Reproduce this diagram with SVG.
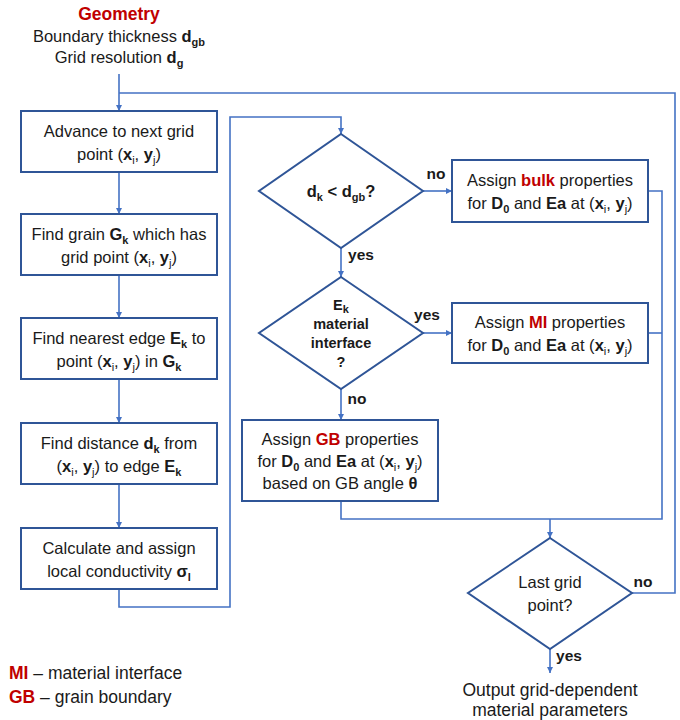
<svg xmlns="http://www.w3.org/2000/svg" width="680" height="720" viewBox="0 0 680 720">
<style>
text{font-family:"Liberation Sans",Arial,sans-serif;fill:#1a1a1a;}
.t{font-size:16.5px;text-anchor:middle;}
.o{font-size:17.5px;}
.b{font-weight:bold;}
.r{fill:#C00000;font-weight:bold;}
.lbl{font-size:15.5px;font-weight:bold;text-anchor:middle;}
.dt{font-size:14.5px;font-weight:bold;text-anchor:middle;}
.box{fill:#fff;stroke:#2F5597;stroke-width:2;}
.con{fill:none;stroke:#4472C4;stroke-width:1.6;}
.s{font-size:11px;}
</style>
<defs>
<marker id="ah" viewBox="0 0 10 10" refX="10" refY="5" markerWidth="6" markerHeight="6" orient="auto" markerUnits="userSpaceOnUse">
<path d="M0,0 L10,5 L0,10 z" fill="#4472C4"/>
</marker>
</defs>

<g id="connectors">
<path class="con" d="M119,74 V111" marker-end="url(#ah)"/>
<path class="con" d="M119,93 H675 V593 H632"/>
<path class="con" d="M119,172 V214" marker-end="url(#ah)"/>
<path class="con" d="M119,275 V318" marker-end="url(#ah)"/>
<path class="con" d="M119,379 V423" marker-end="url(#ah)"/>
<path class="con" d="M119,484 V528" marker-end="url(#ah)"/>
<path class="con" d="M119,589 V607 H230 V117 H341 V134" marker-end="url(#ah)"/>
<path class="con" d="M422,191 H452" marker-end="url(#ah)"/>
<path class="con" d="M341,248 V277" marker-end="url(#ah)"/>
<path class="con" d="M422,333 H452" marker-end="url(#ah)"/>
<path class="con" d="M341,389 V420" marker-end="url(#ah)"/>
<path class="con" d="M648,191 H662 V519 H341 V501"/>
<path class="con" d="M648,333 H662"/>
<path class="con" d="M550,519 V538" marker-end="url(#ah)"/>
<path class="con" d="M550,649 V673" marker-end="url(#ah)"/>
<text class="lbl" x="436" y="179">no</text>
<text class="lbl" x="361" y="260">yes</text>
<text class="lbl" x="427" y="320">yes</text>
<text class="lbl" x="357" y="404">no</text>
<text class="lbl" x="643" y="587">no</text>
<text class="lbl" x="569" y="661">yes</text>
</g>

<g id="geometry">
<text class="t" x="119" y="20"><tspan class="r o">Geometry</tspan></text>
<text class="t" x="119" y="42">Boundary thickness <tspan class="b">d</tspan><tspan class="s b" dy="4">gb</tspan></text>
<text class="t" x="119" y="63">Grid resolution <tspan class="b">d</tspan><tspan class="s b" dy="4">g</tspan></text>
</g>

<g id="advance">
<rect class="box" x="21" y="111" width="196" height="61"/>
<text class="t" x="119" y="137">Advance to next grid</text>
<text class="t" x="119" y="160">point (<tspan class="b">x</tspan><tspan class="s" dy="4">i</tspan><tspan dy="-4">, </tspan><tspan class="b">y</tspan><tspan class="s" dy="4">j</tspan><tspan dy="-4">)</tspan></text>
</g>

<g id="findgrain">
<rect class="box" x="21" y="214" width="196" height="61"/>
<text class="t" x="119" y="240">Find grain <tspan class="b">G</tspan><tspan class="s b" dy="4">k</tspan><tspan dy="-4"> which has</tspan></text>
<text class="t" x="119" y="263">grid point (<tspan class="b">x</tspan><tspan class="s" dy="4">i</tspan><tspan dy="-4">, </tspan><tspan class="b">y</tspan><tspan class="s" dy="4">j</tspan><tspan dy="-4">)</tspan></text>
</g>

<g id="findedge">
<rect class="box" x="21" y="318" width="196" height="61"/>
<text class="t" x="119" y="344">Find nearest edge <tspan class="b">E</tspan><tspan class="s b" dy="4">k</tspan><tspan dy="-4"> to</tspan></text>
<text class="t" x="119" y="367">point (<tspan class="b">x</tspan><tspan class="s" dy="4">i</tspan><tspan dy="-4">, </tspan><tspan class="b">y</tspan><tspan class="s" dy="4">j</tspan><tspan dy="-4">) in </tspan><tspan class="b">G</tspan><tspan class="s b" dy="4">k</tspan></text>
</g>

<g id="finddist">
<rect class="box" x="21" y="423" width="196" height="61"/>
<text class="t" x="119" y="449">Find distance <tspan class="b">d</tspan><tspan class="s b" dy="4">k</tspan><tspan dy="-4"> from</tspan></text>
<text class="t" x="119" y="472">(<tspan class="b">x</tspan><tspan class="s" dy="4">i</tspan><tspan dy="-4">, </tspan><tspan class="b">y</tspan><tspan class="s" dy="4">j</tspan><tspan dy="-4">) to edge </tspan><tspan class="b">E</tspan><tspan class="s b" dy="4">k</tspan></text>
</g>

<g id="calc">
<rect class="box" x="21" y="528" width="196" height="61"/>
<text class="t" x="119" y="554">Calculate and assign</text>
<text class="t" x="119" y="577">local conductivity <tspan class="b">σ</tspan><tspan class="s b" dy="4">l</tspan></text>
</g>

<g id="dec1">
<polygon class="box" points="341,134 423,191 341,248 259,191"/>
<text class="t b" x="341" y="197">d<tspan class="s" dy="4">k</tspan><tspan dy="-4"> &lt; d</tspan><tspan class="s" dy="4">gb</tspan><tspan dy="-4">?</tspan></text>
</g>

<g id="bulk">
<rect class="box" x="452" y="160" width="196" height="62"/>
<text class="t" x="550" y="186">Assign <tspan class="r">bulk</tspan> properties</text>
<text class="t" x="550" y="209">for <tspan class="b">D</tspan><tspan class="s b" dy="4">0</tspan><tspan dy="-4"> and </tspan><tspan class="b">Ea</tspan> at (<tspan class="b">x</tspan><tspan class="s" dy="4">i</tspan><tspan dy="-4">, </tspan><tspan class="b">y</tspan><tspan class="s" dy="4">j</tspan><tspan dy="-4">)</tspan></text>
</g>

<g id="dec2">
<polygon class="box" points="341,277 423,333 341,389 259,333"/>
<text class="dt" x="341" y="310">E<tspan class="s" dy="3">k</tspan></text>
<text class="dt" x="341" y="329">material</text>
<text class="dt" x="341" y="348">interface</text>
<text class="dt" x="341" y="367">?</text>
</g>

<g id="mi">
<rect class="box" x="452" y="303" width="196" height="60"/>
<text class="t" x="550" y="328">Assign <tspan class="r">MI</tspan> properties</text>
<text class="t" x="550" y="351">for <tspan class="b">D</tspan><tspan class="s b" dy="4">0</tspan><tspan dy="-4"> and </tspan><tspan class="b">Ea</tspan> at (<tspan class="b">x</tspan><tspan class="s" dy="4">i</tspan><tspan dy="-4">, </tspan><tspan class="b">y</tspan><tspan class="s" dy="4">j</tspan><tspan dy="-4">)</tspan></text>
</g>

<g id="gb">
<rect class="box" x="242" y="420" width="196" height="81"/>
<text class="t" x="340" y="445">Assign <tspan class="r">GB</tspan> properties</text>
<text class="t" x="340" y="467">for <tspan class="b">D</tspan><tspan class="s b" dy="4">0</tspan><tspan dy="-4"> and </tspan><tspan class="b">Ea</tspan> at (<tspan class="b">x</tspan><tspan class="s" dy="4">i</tspan><tspan dy="-4">, </tspan><tspan class="b">y</tspan><tspan class="s" dy="4">j</tspan><tspan dy="-4">)</tspan></text>
<text class="t" x="340" y="489">based on GB angle <tspan class="b">θ</tspan></text>
</g>

<g id="dec3">
<polygon class="box" points="550,538 632,593 550,649 468,593"/>
<text class="t" x="550" y="588">Last grid</text>
<text class="t" x="550" y="611">point?</text>
</g>

<g id="output">
<text class="t o" x="550" y="696">Output grid-dependent</text>
<text class="t o" x="550" y="716">material parameters</text>
</g>

<g id="legend">
<text class="o" x="9" y="679"><tspan class="r">MI</tspan> – material interface</text>
<text class="o" x="9" y="703"><tspan class="r">GB</tspan> – grain boundary</text>
</g>
</svg>
